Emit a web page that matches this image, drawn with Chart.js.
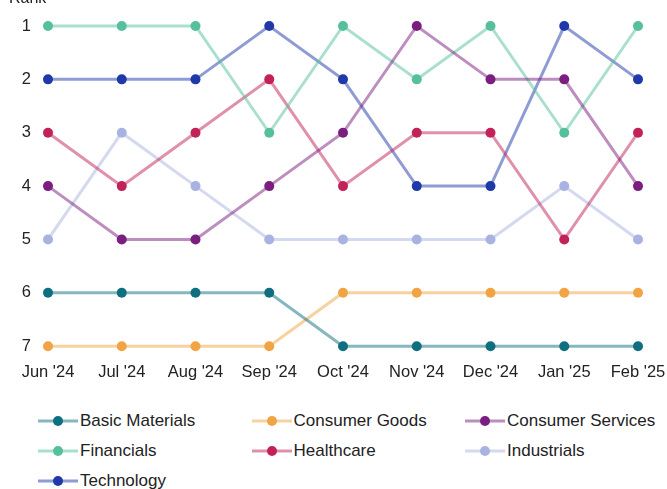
<!DOCTYPE html>
<html>
<head>
<meta charset="utf-8">
<script src="https://cdn.jsdelivr.net/npm/chart.js@4"></script>
<style>
    body { margin: 0; background: #fff; font-family: "Liberation Sans", Arial, sans-serif; }
    .wrap { position: relative; width: 667px; height: 489px; overflow: hidden; }
    .chart { position: absolute; left: 0; top: 0; width: 667px; height: 390px; }
    .legend { position: absolute; left: 38px; top: 406px; width: 640px; }
    .item { position: absolute; display: flex; align-items: center; font-size: 17px; color: #222; height: 30px; white-space: nowrap; }
    .item canvas { margin-right: 2px; }
</style>
</head>
<body>
<div class="wrap">
    <div class="chart"><canvas id="rank-chart"></canvas></div>
    <div class="legend" id="legend"></div>
</div>
<script>
let months = ["Jun '24", "Jul '24", "Aug '24", "Sep '24", "Oct '24", "Nov '24", "Dec '24", "Jan '25", "Feb '25"]
let sectors = ["Basic Materials", "Consumer Goods", "Consumer Services", "Financials", "Healthcare", "Industrials", "Technology"]
let colors = ["#0e6f80", "#f2a444", "#7a1e7f", "#55bf9e", "#c2215a", "#a9b3e2", "#1f3aa8"]

let basicMaterials = [6, 6, 6, 6, 7, 7, 7, 7, 7]
let consumerGoods = [7, 7, 7, 7, 6, 6, 6, 6, 6]
let consumerServices = [4, 5, 5, 4, 3, 1, 2, 2, 4]
let financials = [1, 1, 1, 3, 1, 2, 1, 3, 1]
let healthcare = [3, 4, 3, 2, 4, 3, 3, 5, 3]
let industrials = [5, 3, 4, 5, 5, 5, 5, 4, 5]
let technology = [2, 2, 2, 1, 2, 4, 4, 1, 2]

let rankTicks = [1, 2, 3, 4, 5, 6, 7]

let series = [basicMaterials, consumerGoods, consumerServices, financials, healthcare, industrials, technology]

function fade(hex, a) {
    let n = parseInt(hex.slice(1), 16)
    return "rgba(" + (n >> 16) + "," + ((n >> 8) & 255) + "," + (n & 255) + "," + a + ")"
}

let datasets = series.map((values, i) => ({
    label: sectors[i],
    data: values,
    borderColor: fade(colors[i], 0.5),
    backgroundColor: colors[i],
    pointBackgroundColor: colors[i],
    pointBorderWidth: 0,
    pointRadius: 5,
    pointHoverRadius: 5,
    borderWidth: 3,
    tension: 0
}))

// "Rank" axis title sits at the very top, mostly cut off
const rankTitle = {
    id: 'rankTitle',
    afterDraw(chart) {
        let ctx = chart.ctx
        ctx.save()
        ctx.font = '16px "Liberation Sans", Arial, sans-serif'
        ctx.fillStyle = '#222'
        ctx.textBaseline = 'alphabetic'
        ctx.fillText('Rank', 9, 3)
        ctx.restore()
    }
}

Chart.defaults.font.family = '"Liberation Sans", Arial, sans-serif'
Chart.defaults.font.size = 16
Chart.defaults.color = '#222'

new Chart(document.querySelector('#rank-chart'), {
    type: 'line',
    data: { labels: months, datasets: datasets },
    options: {
        responsive: true,
        maintainAspectRatio: false,
        animation: false,
        clip: false,
        layout: { padding: { top: 26, right: 0, left: 0, bottom: 0 } },
        plugins: {
            legend: { display: false },
            tooltip: { enabled: false }
        },
        scales: {
            x: {
                offset: false,
                afterFit: s => { s.paddingRight = 29 },
                grid: { display: false },
                border: { display: false },
                ticks: { padding: 8, maxRotation: 0, autoSkip: false, font: { size: 16.5 } }
            },
            y: {
                reverse: true,
                min: 1,
                max: 7,
                afterFit: s => { s.width = 48 },
                afterBuildTicks: s => { s.ticks = rankTicks.map(v => ({ value: v })) },
                grid: { display: false },
                border: { display: false },
                ticks: { padding: 9, font: { size: 16.5 } }
            }
        }
    },
    plugins: [rankTitle]
})

// legend: three fixed columns, line + dot symbol
let legend = document.querySelector('#legend')
sectors.forEach((name, i) => {
    let item = document.createElement('div')
    item.className = 'item'
    item.style.left = (i % 3) * 213.5 + 'px'
    item.style.top = Math.floor(i / 3) * 30 + 'px'
    let c = document.createElement('canvas')
    c.width = 40
    c.height = 14
    let g = c.getContext('2d')
    g.strokeStyle = fade(colors[i], 0.5)
    g.lineWidth = 3
    g.beginPath()
    g.moveTo(0, 7)
    g.lineTo(40, 7)
    g.stroke()
    g.fillStyle = colors[i]
    g.beginPath()
    g.arc(20, 7, 5, 0, Math.PI * 2)
    g.fill()
    item.appendChild(c)
    let t = document.createElement('span')
    t.textContent = name
    item.appendChild(t)
    legend.appendChild(item)
})
</script>
</body>
</html>
